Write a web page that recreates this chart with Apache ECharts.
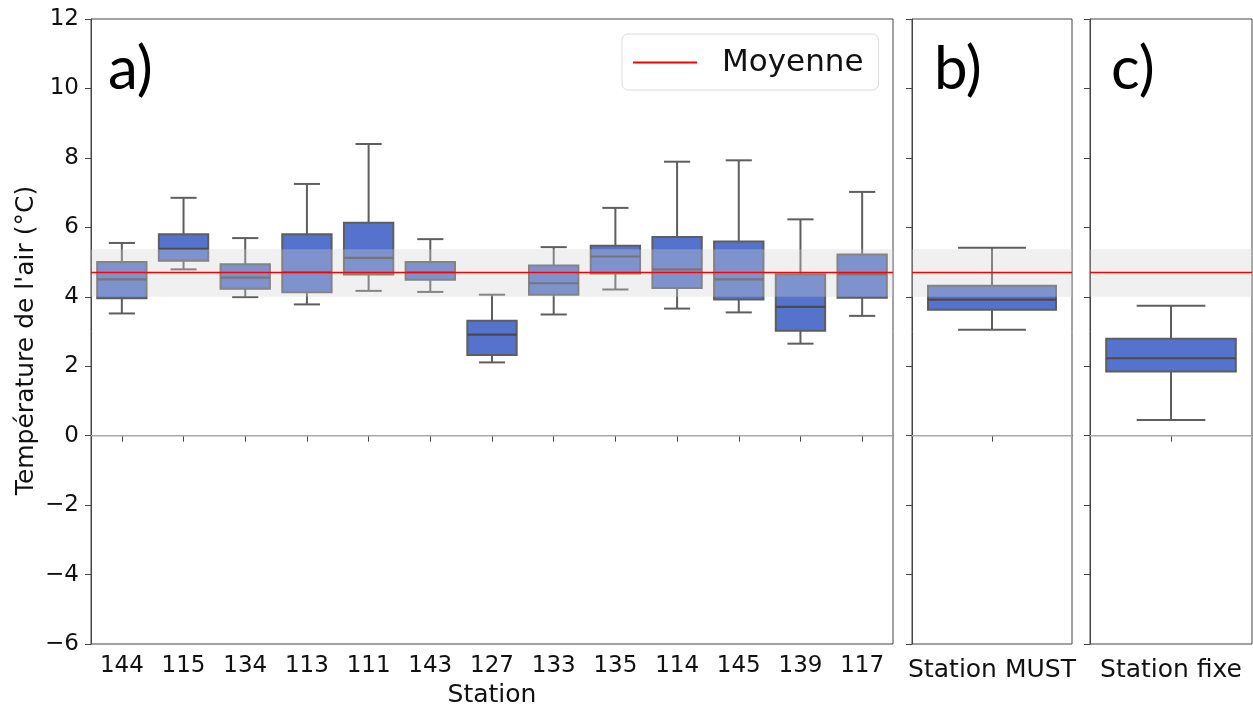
<!DOCTYPE html>
<html>
<head>
<meta charset="utf-8">
<script src="https://cdn.jsdelivr.net/npm/echarts@6/dist/echarts.min.js"></script>
<style>html,body{margin:0;padding:0;background:#fff}#c{width:1253px;height:707px}</style>
</head>
<body>
<div id="c"></div>
<script>
// ---- data ----
const stations = ['144','115','134','113','111','143','127','133','135','114','145','139','117'];
const whiskerLow  = [3.52, 4.79, 3.99, 3.78, 4.17, 4.14, 2.11, 3.49, 4.21, 3.66, 3.55, 2.65, 3.45];
const q1          = [3.96, 5.04, 4.23, 4.13, 4.64, 4.49, 2.32, 4.06, 4.67, 4.25, 3.92, 3.02, 3.97];
const median      = [4.50, 5.38, 4.55, 4.71, 5.12, 4.70, 2.91, 4.39, 5.16, 4.79, 4.50, 3.71, 4.65];
const q3          = [5.00, 5.80, 4.94, 5.80, 6.13, 5.00, 3.31, 4.90, 5.47, 5.72, 5.59, 4.65, 5.22];
const whiskerHigh = [5.55, 6.85, 5.69, 7.25, 8.40, 5.66, 4.06, 5.43, 6.56, 7.89, 7.93, 6.23, 7.02];

const mustCategory = ['Station MUST'];
const mustBox = [3.05, 3.63, 3.92, 4.32, 5.41]; // low, q1, median, q3, high
const fixeCategory = ['Station fixe'];
const fixeBox = [0.45, 1.85, 2.23, 2.79, 3.74];

const meanValue = 4.70;
const bandLow = 4.00;
const bandHigh = 5.37;
const yMin = -6, yMax = 12, yStep = 2;

// ---- styles ----
const BOX_FILL = '#5573cd';
const LINE_COL = '#5e5e5e';
const AX_COL = '#444';
const FONT = 'DejaVu Sans';

function renderBox(params, api) {
  const idx = api.value(0);
  const pLow = api.coord([idx, api.value(1)]);
  const pQ1 = api.coord([idx, api.value(2)]);
  const pMed = api.coord([idx, api.value(3)]);
  const pQ3 = api.coord([idx, api.value(4)]);
  const pHigh = api.coord([idx, api.value(5)]);
  const bw = api.size([1, 0])[0] * 0.8;
  const cw = bw * 0.53;
  const cx = pMed[0];
  const ls = {stroke: LINE_COL, lineWidth: 2};
  return {
    type: 'group',
    children: [
      {type: 'line', shape: {x1: cx, y1: pQ1[1], x2: cx, y2: pLow[1]}, style: ls},
      {type: 'line', shape: {x1: cx, y1: pQ3[1], x2: cx, y2: pHigh[1]}, style: ls},
      {type: 'line', shape: {x1: cx - cw / 2, y1: pLow[1], x2: cx + cw / 2, y2: pLow[1]}, style: ls},
      {type: 'line', shape: {x1: cx - cw / 2, y1: pHigh[1], x2: cx + cw / 2, y2: pHigh[1]}, style: ls},
      {type: 'rect', shape: {x: cx - bw / 2, y: pQ3[1], width: bw, height: pQ1[1] - pQ3[1]},
        style: {fill: BOX_FILL, stroke: LINE_COL, lineWidth: 2}},
      {type: 'line', shape: {x1: cx - bw / 2, y1: pMed[1], x2: cx + bw / 2, y2: pMed[1]},
        style: {stroke: '#4a4a4a', lineWidth: 2.2}}
    ]
  };
}

function renderBand(params, api) {
  const cs = params.coordSys;
  const yTop = api.coord([0, api.value(2)])[1];
  const yBot = api.coord([0, api.value(1)])[1];
  return {type: 'rect', shape: {x: cs.x, y: yTop, width: cs.width, height: yBot - yTop},
    style: {fill: 'rgba(209,209,209,0.33)'}};
}

function renderHLine(color, width) {
  return function (params, api) {
    const cs = params.coordSys;
    const y = api.coord([0, api.value(1)])[1];
    return {type: 'line', shape: {x1: cs.x, y1: y, x2: cs.x + cs.width, y2: y},
      style: {stroke: color, lineWidth: width}};
  };
}

const grids = [
  {left: 91, top: 19, width: 802, height: 625},
  {left: 912, top: 19, width: 160, height: 625},
  {left: 1090, top: 19, width: 162, height: 625}
].map(g => Object.assign(g, {show: true, borderColor: AX_COL, borderWidth: 1, backgroundColor: 'transparent',
  containLabel: false, outerBoundsMode: 'none'}));

const cats = [stations, mustCategory, fixeCategory];
const xAxes = cats.map((c, i) => ({
  type: 'category', gridIndex: i, data: c,
  name: i === 0 ? 'Station' : '', nameLocation: 'middle', nameGap: 39, nameMoveOverlap: false,
  nameTextStyle: {fontFamily: FONT, fontSize: 25, color: '#111'},
  axisLine: {show: true, lineStyle: {color: AX_COL, width: 1}},
  axisTick: {show: true, alignWithLabel: true, length: 6, lineStyle: {color: AX_COL}},
  axisLabel: {fontFamily: FONT, fontSize: i === 0 ? 23 : 25, color: '#111', margin: i === 0 ? 11 : 14},
  splitLine: {show: false}
}));
const yAxes = [0, 1, 2].map(i => ({
  type: 'value', gridIndex: i, min: yMin, max: yMax, interval: yStep,
  name: i === 0 ? "Température de l'air (°C)" : '', nameLocation: 'middle', nameGap: 52, nameRotate: 90,
  nameMoveOverlap: false,
  nameTextStyle: {fontFamily: FONT, fontSize: 25, color: '#111', padding: [0, 18, 0, 0]},
  axisLine: {show: true, lineStyle: {color: AX_COL, width: 1}},
  axisTick: {show: true, length: 6, lineStyle: {color: AX_COL}},
  axisLabel: {show: i === 0, fontFamily: FONT, fontSize: 23, color: '#111', margin: 12,
    formatter: v => (v < 0 ? '\u2212' + Math.abs(v) : String(v))},
  splitLine: {show: false}
}));

const series = [];
const boxData = [
  stations.map((s, k) => [k, whiskerLow[k], q1[k], median[k], q3[k], whiskerHigh[k]]),
  [[0].concat(mustBox)],
  [[0].concat(fixeBox)]
];
for (let i = 0; i < 3; i++) {
  series.push({type: 'custom', xAxisIndex: i, yAxisIndex: i, z: 1, silent: true,
    renderItem: renderHLine('#a8a8a8', 1.5), data: [[0, 0]], encode: {x: 0, y: 1}});
  series.push({type: 'custom', xAxisIndex: i, yAxisIndex: i, z: 2, silent: true,
    renderItem: renderBox, data: boxData[i], encode: {x: 0, y: [1, 2, 3, 4, 5]}});
  series.push({type: 'custom', xAxisIndex: i, yAxisIndex: i, z: 3, silent: true,
    renderItem: renderBand, data: [[0, bandLow, bandHigh]], encode: {x: 0, y: [1, 2]}});
  series.push({type: 'custom', name: 'Moyenne', xAxisIndex: i, yAxisIndex: i, z: 4, silent: true,
    itemStyle: {color: '#ff0000'},
    renderItem: renderHLine('#ff0000', 1.5), data: [[0, meanValue]], encode: {x: 0, y: 1}});
}

const annFont = {fontFamily: 'Lato', fontSize: 60, fill: '#000'};
const option = {
  animation: false,
  backgroundColor: '#fff',
  grid: grids,
  xAxis: xAxes,
  yAxis: yAxes,
  legend: {
    show: true, left: 622, top: 34,
    data: [{name: 'Moyenne', icon: 'rect'}],
    itemWidth: 64, itemHeight: 2,
    backgroundColor: '#fff', borderColor: '#dcdcdc', borderWidth: 1, borderRadius: 6,
    padding: [13, 15, 12, 11],
    textStyle: {fontFamily: FONT, fontSize: 31, color: '#111', padding: [0, 0, 0, 20]},
    selectedMode: false
  },
  graphic: [
    {type: 'text', left: 108, top: 40, z: 10, style: Object.assign({text: 'a)'}, annFont)},
    {type: 'text', left: 934, top: 40, z: 10, style: Object.assign({text: 'b)'}, annFont)},
    {type: 'text', left: 1111, top: 40, z: 10, style: Object.assign({text: 'c)'}, annFont)}
  ],
  series: series
};
const chart = echarts.init(document.getElementById('c'), null, {renderer: 'canvas'});
chart.setOption(option);
</script>
</body>
</html>
